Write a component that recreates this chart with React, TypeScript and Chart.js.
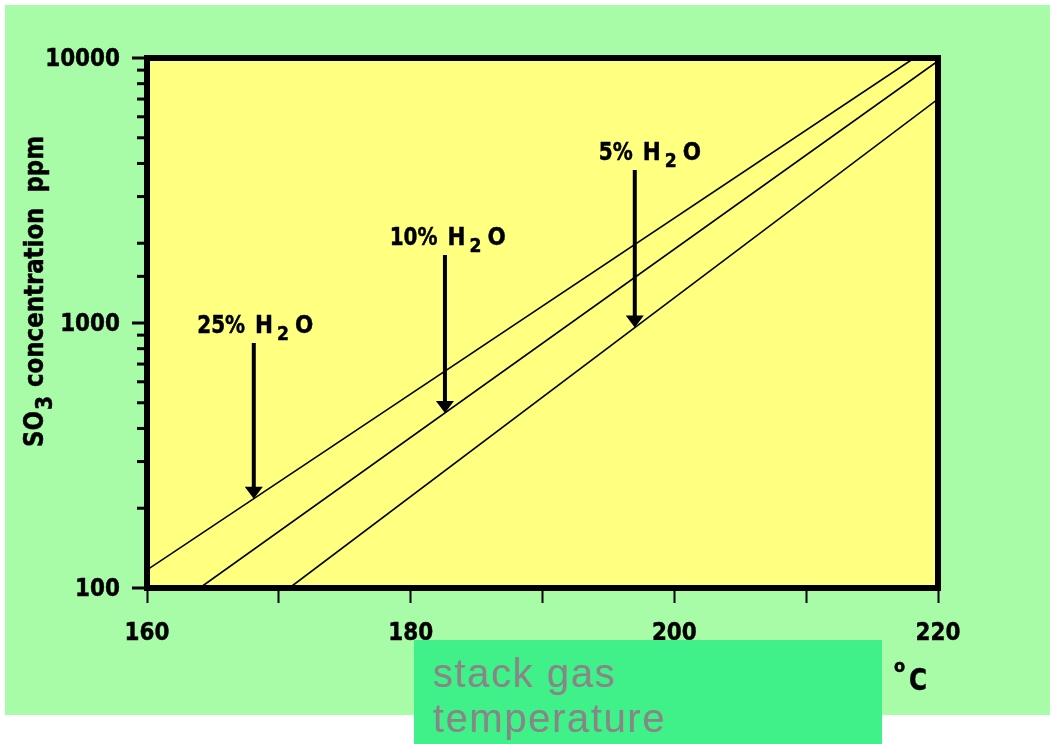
import { useEffect, useRef } from "react";
import { Chart, registerables } from "chart.js";

Chart.register(...registerables);

// SO3 dew point lines: stack gas temperature (°C) against SO3 concentration (ppm)
const waterContents = ["25%", "10%", "5%"];

const temps25 = [160, 218.2];
const so3At25 = [117, 10000];
const temps10 = [164, 220];
const so3At10 = [100, 9750];
const temps5 = [170.8, 220];
const so3At5 = [100, 7000];

// arrow annotations: temperature of the shaft, top of the shaft (ppm), start of "H2O"
const arrowTemps = [168.1, 182.6, 197.0];
const arrowTops = [840, 1805, 3776];
const labelTemps = [168.2, 182.8, 197.6];

const xTickValues = [160, 170, 180, 190, 200, 210, 220];
const xTickLabels = [160, 180, 200, 220];
const yTickLabels = [100, 1000, 10000];

const FONT = "'DejaVu Sans', sans-serif";

const seriesTemps = [temps25, temps10, temps5];
const seriesSo3 = [so3At25, so3At10, so3At5];

const toPoints = (xs: number[], ys: number[]) => xs.map((x, i) => ({ x, y: ys[i] }));

// heavy, narrow bold text; returns the drawn width
const drawText = (
  ctx: CanvasRenderingContext2D,
  s: string,
  x: number,
  y: number,
  size: number,
  align: CanvasTextAlign,
  sx = 0.86
) => {
  ctx.save();
  ctx.font = `bold ${size}px ${FONT}`;
  ctx.translate(x, y);
  ctx.scale(sx, 1);
  ctx.textAlign = align;
  ctx.textBaseline = "alphabetic";
  ctx.fillStyle = "#000";
  ctx.strokeStyle = "#000";
  ctx.lineWidth = 0.5;
  ctx.strokeText(s, 0, 0);
  ctx.fillText(s, 0, 0);
  const w = ctx.measureText(s).width * sx;
  ctx.restore();
  return w;
};

const decorations = {
  id: "decorations",
  beforeDraw(chart: any) {
    const { ctx, chartArea: a } = chart;
    ctx.save();
    ctx.fillStyle = "#ffff80";
    ctx.fillRect(a.left, a.top, a.right - a.left, a.bottom - a.top);
    ctx.restore();
  },
  afterDatasetsDraw(chart: any) {
    const { ctx, chartArea: a, scales } = chart;
    const xs = scales.x;
    const ys = scales.y;
    ctx.save();

    // frame round the plot
    ctx.strokeStyle = "#000";
    ctx.lineWidth = 6;
    ctx.strokeRect(a.left, a.top, a.right - a.left, a.bottom - a.top);

    // logarithmic tick marks, longer at each decade
    ctx.lineWidth = 3;
    for (const t of ys.ticks) {
      const lg = Math.log10(t.value);
      const major = Math.abs(lg - Math.round(lg)) < 1e-6;
      const py = ys.getPixelForValue(t.value);
      ctx.beginPath();
      ctx.moveTo(a.left - (major ? 15 : 10), py);
      ctx.lineTo(a.left, py);
      ctx.stroke();
    }

    // tick labels
    for (const v of yTickLabels) {
      drawText(ctx, String(v), a.left - 27, ys.getPixelForValue(v) + 8, 25, "right");
    }
    for (const v of xTickLabels) {
      drawText(ctx, String(v), xs.getPixelForValue(v), a.bottom + 52, 25, "center");
    }

    // arrows pointing at each line, with their labels
    for (let i = 0; i < waterContents.length; i++) {
      const tx = seriesTemps[i];
      const ty = seriesSo3[i];
      const px = xs.getPixelForValue(arrowTemps[i]);
      const x0 = xs.getPixelForValue(tx[0]);
      const x1 = xs.getPixelForValue(tx[1]);
      const y0 = ys.getPixelForValue(ty[0]);
      const y1 = ys.getPixelForValue(ty[1]);
      const tipY = y0 + ((px - x0) / (x1 - x0)) * (y1 - y0);
      const topY = ys.getPixelForValue(arrowTops[i]);

      ctx.strokeStyle = "#000";
      ctx.fillStyle = "#000";
      ctx.lineWidth = 4;
      ctx.beginPath();
      ctx.moveTo(px, topY);
      ctx.lineTo(px, tipY - 9);
      ctx.stroke();
      ctx.beginPath();
      ctx.moveTo(px - 9, tipY - 12);
      ctx.lineTo(px + 9, tipY - 12);
      ctx.lineTo(px, tipY);
      ctx.closePath();
      ctx.fill();

      const hx = xs.getPixelForValue(labelTemps[i]);
      const base = topY - 10;
      drawText(ctx, waterContents[i], hx - 10, base, 25, "right", 0.8);
      const wH = drawText(ctx, "H", hx, base, 25, "left");
      const w2 = drawText(ctx, "2", hx + wH + 4, base + 7, 20, "left");
      drawText(ctx, "O", hx + wH + 4 + w2 + 6, base, 25, "left");
    }

    // y axis title with subscript
    ctx.save();
    ctx.translate(a.left - 104, a.bottom - 141);
    ctx.rotate(-Math.PI / 2);
    let cx = 0;
    cx += drawText(ctx, "SO", cx, 0, 26, "left", 0.88) + 1;
    cx += drawText(ctx, "3", cx, 9, 23, "left", 0.88) + 9;
    cx += drawText(ctx, "concentration", cx, 0, 26, "left", 0.88) + 15;
    drawText(ctx, "ppm", cx, 0, 26, "left", 0.88);
    ctx.restore();

    // unit of the x axis
    drawText(ctx, "o", a.right - 44, a.bottom + 84, 18, "left", 0.9);
    drawText(ctx, "C", a.right - 29, a.bottom + 102, 30, "left", 0.82);

    ctx.restore();
  },
};

export default function App() {
  const canvasRef = useRef<HTMLCanvasElement | null>(null);

  useEffect(() => {
    const canvas = canvasRef.current;
    if (!canvas) return;
    const chart = new Chart(canvas, {
      type: "scatter",
      data: {
        datasets: waterContents.map((w, i) => ({
          label: `${w} H2O`,
          data: toPoints(seriesTemps[i], seriesSo3[i]),
          showLine: true,
          borderColor: "#000",
          borderWidth: 1.6,
          pointRadius: 0,
          fill: false,
        })),
      },
      options: {
        responsive: false,
        animation: false,
        layout: { padding: { top: 58, right: 112, left: 0, bottom: 0 } },
        plugins: { legend: { display: false }, tooltip: { enabled: false } },
        scales: {
          x: {
            type: "linear",
            min: 160,
            max: 220,
            afterBuildTicks: (s: any) => {
              s.ticks = xTickValues.map((v) => ({ value: v }));
            },
            ticks: { display: false, autoSkip: false, maxRotation: 0 },
            grid: {
              drawOnChartArea: false,
              drawTicks: true,
              tickLength: 15,
              tickWidth: 2,
              tickColor: "#000",
            },
            border: { display: false },
            afterFit: (s: any) => {
              s.height = 156;
            },
          },
          y: {
            type: "logarithmic",
            min: 100,
            max: 10000,
            ticks: { display: false, autoSkip: false },
            grid: { drawOnChartArea: false, drawTicks: false },
            border: { display: false },
            afterFit: (s: any) => {
              s.width = 147;
            },
          },
        },
      },
      plugins: [decorations],
    });
    return () => chart.destroy();
  }, []);

  return (
    <div style={{ position: "absolute", left: 0, top: 0, width: 1050, height: 744, overflow: "hidden", background: "#fff" }}>
      <div style={{ position: "absolute", left: 5, top: 5, width: 1045, height: 710, background: "#a8fca8" }} />
      <canvas ref={canvasRef} width={1050} height={744} style={{ position: "absolute", left: 0, top: 0 }} />
      <div
        style={{
          position: "absolute",
          left: 414,
          top: 640,
          width: 468,
          height: 104,
          boxSizing: "border-box",
          padding: "11px 0 0 19px",
          background: "#40f088",
          color: "#878787",
          fontFamily: "'Liberation Sans', Arial, sans-serif",
          fontSize: 40,
          lineHeight: "45px",
          letterSpacing: 1.6,
        }}
      >
        stack gas
        <br />
        temperature
      </div>
    </div>
  );
}
